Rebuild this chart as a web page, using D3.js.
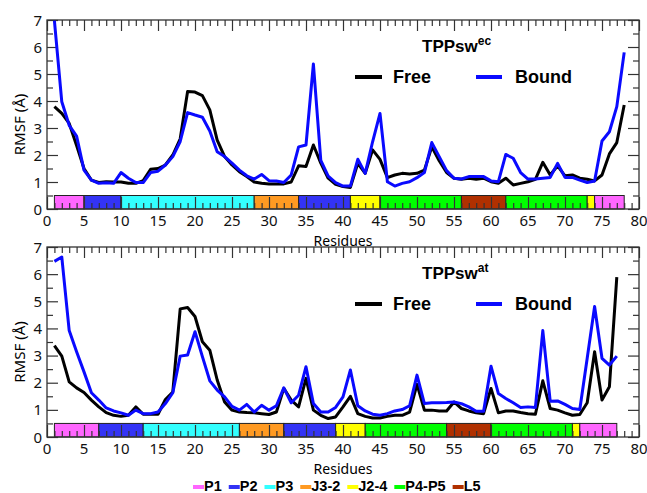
<!DOCTYPE html>
<html lang="en">
<head>
<meta charset="UTF-8">
<title>RMSF</title>
<script src="https://cdn.jsdelivr.net/npm/d3@7"></script>
<style>
  body { margin: 0; background: #fff; }
  text { font-family: "Noto Sans", "Open Sans", sans-serif; }
  .bold { font-family: "Liberation Sans", Arial, sans-serif; font-weight: bold; }
</style>
</head>
<body>
<script>
// residue numbers
const resEc = d3.range(1, 79);
const resAt = d3.range(1, 78);

// TPPsw ec (top)
const ecFree = [3.79,3.54,3.17,2.35,1.5,1.07,0.98,1.01,1.0,1.0,0.95,0.95,1.05,1.47,1.5,1.63,2.0,2.6,4.35,4.33,
  4.2,3.67,2.55,1.94,1.63,1.38,1.2,1.0,0.95,0.93,0.93,0.93,1.0,1.6,1.57,2.37,1.7,1.14,0.91,0.83,
  0.8,1.69,1.32,2.19,1.84,1.16,1.26,1.32,1.3,1.32,1.44,2.3,1.79,1.35,1.14,1.1,1.14,1.1,1.14,1.01,
  0.95,1.14,0.89,0.95,1.01,1.1,1.73,1.26,1.6,1.23,1.26,1.14,1.1,1.04,1.26,2.04,2.46,3.85];
const ecBound = [6.98,3.97,3.1,2.7,1.44,1.07,0.95,0.97,0.95,1.35,1.14,0.98,0.98,1.35,1.4,1.63,1.94,2.5,3.57,3.48,
  3.4,2.89,2.12,1.94,1.7,1.44,1.23,1.11,1.28,1.05,1.04,0.98,1.26,2.3,2.37,5.37,1.8,1.22,0.98,0.85,
  0.85,1.84,1.32,2.49,3.54,1.01,0.85,0.95,1.01,1.16,1.35,2.46,1.94,1.42,1.14,1.11,1.2,1.2,1.2,1.04,
  1.01,2.02,1.88,1.35,1.11,1.11,1.14,1.17,1.69,1.17,1.17,1.07,0.98,1.04,2.52,2.86,3.79,5.8];

// TPPsw at (bottom)
const atFree = [3.37,2.98,2.03,1.81,1.64,1.36,1.11,0.9,0.8,0.76,0.8,1.11,0.84,0.84,0.84,1.38,1.66,4.72,4.77,4.44,
  3.51,3.2,2.1,1.29,0.99,0.92,0.9,0.89,0.86,0.83,0.92,1.79,1.36,1.11,2.16,0.99,0.8,0.68,0.74,1.11,
  1.5,0.86,0.76,0.7,0.7,0.76,0.8,0.8,0.92,1.94,0.99,0.99,0.96,0.96,1.29,1.05,0.96,0.89,0.86,1.79,
  0.89,0.96,0.96,0.9,0.86,0.84,2.07,1.05,0.99,0.89,0.8,0.83,1.26,3.14,1.36,1.85,5.89];
const atBound = [6.47,6.63,3.92,3.14,2.4,1.63,1.36,1.07,0.96,0.89,0.8,0.99,0.86,0.86,0.92,1.23,1.63,2.98,3.02,3.88,
  2.96,2.07,1.73,1.48,1.13,0.99,1.2,0.92,1.17,0.99,1.15,1.81,1.26,1.54,2.59,1.23,0.92,0.92,1.09,1.48,
  2.47,1.15,0.96,0.84,0.8,0.86,0.96,1.01,1.15,2.28,1.23,1.26,1.26,1.27,1.29,1.23,1.11,0.95,0.95,2.61,
  1.6,1.42,1.26,1.09,1.11,1.09,3.92,1.32,1.33,1.2,1.05,1.01,2.9,4.81,2.9,2.65,2.98];

// secondary structure segments: start, end, name
const ecSegments = [[1,5,'P1'],[5,10,'P2'],[10,28,'P3'],[28,34,'J3-2'],[34,41,'P2'],[41,45,'J2-4'],
  [45,56,'P4-P5'],[56,62,'L5'],[62,73,'P4-P5'],[73,74,'J2-4'],[74,78,'P1']];
const atSegments = [[1,7,'P1'],[7,13,'P2'],[13,26,'P3'],[26,32,'J3-2'],[32,39,'P2'],[39,43,'J2-4'],
  [43,54,'P4-P5'],[54,60,'L5'],[60,71,'P4-P5'],[71,72,'J2-4'],[72,77,'P1']];

const segNames = ['P1','P2','P3','J3-2','J2-4','P4-P5','L5'];
const xTicks = [0,5,10,15,20,25,30,35,40,45,50,55,60,65,70,75,80];
const yTicks = [0,1,2,3,4,5,6,7];

const segColor = d3.scaleOrdinal()
  .domain(segNames)
  .range(['#ff66ff','#3333f5','#33ffff','#ff9a22','#ffff00','#00ff00','#b03000']);

const W = 647, H = 493;
const svg = d3.select('body').append('svg').attr('width', W).attr('height', H);

const x = d3.scaleLinear().domain([0, 80]).range([47, 639]);

function drawPanel(top, bottom, res, free, bound, segs, sup) {
    const y = d3.scaleLinear().domain([0, 7]).range([bottom, top]);
    const g = svg.append('g');

    // structure bar
    g.selectAll('.seg')
        .data(segs)
        .enter()
        .append('rect')
        .attr('x', d => x(d[0]))
        .attr('width', d => x(d[1]) - x(d[0]))
        .attr('y', y(0.5))
        .attr('height', y(0) - y(0.5))
        .attr('fill', d => segColor(d[2]))
        .attr('stroke', '#222')
        .attr('stroke-width', 1);

    // inward ticks
    const minorX = d3.range(0, 81, 1).filter(v => v % 5 !== 0);
    const minorY = d3.range(0.5, 7, 1);
    const tk = [
        [d3.axisTop(x).tickValues(minorX).tickSize(6), bottom],
        [d3.axisTop(x).tickValues(xTicks).tickSize(12), bottom],
        [d3.axisBottom(x).tickValues(minorX).tickSize(6), top],
        [d3.axisBottom(x).tickValues(xTicks).tickSize(11), top]
    ];
    tk.forEach(([ax, yy]) => {
        g.append('g').attr('transform', `translate(0,${yy})`)
            .call(ax.tickFormat(''))
            .call(s => s.select('.domain').remove())
            .selectAll('line').attr('stroke', '#333').attr('stroke-width', 1.2);
    });
    const tky = [
        [d3.axisRight(y).tickValues(minorY).tickSize(6), 47],
        [d3.axisRight(y).tickValues(yTicks).tickSize(11), 47],
        [d3.axisLeft(y).tickValues(minorY).tickSize(6), 639],
        [d3.axisLeft(y).tickValues(yTicks).tickSize(11), 639]
    ];
    tky.forEach(([ax, xx]) => {
        g.append('g').attr('transform', `translate(${xx},0)`)
            .call(ax.tickFormat(''))
            .call(s => s.select('.domain').remove())
            .selectAll('line').attr('stroke', '#333').attr('stroke-width', 1.2);
    });

    // frame
    g.append('rect')
        .attr('x', 47).attr('y', top)
        .attr('width', 639 - 47).attr('height', bottom - top)
        .attr('fill', 'none').attr('stroke', '#333').attr('stroke-width', 1.3);

    // tick labels
    g.selectAll('.xl').data(xTicks).enter().append('text')
        .attr('x', d => x(d)).attr('y', bottom + 17)
        .attr('text-anchor', 'middle').attr('font-size', 15).attr('fill', '#111')
        .text(d => d);
    g.selectAll('.yl').data(yTicks).enter().append('text')
        .attr('x', 42).attr('y', d => y(d) + 5.5)
        .attr('text-anchor', 'end').attr('font-size', 15).attr('fill', '#111')
        .text(d => d);

    g.append('text')
        .attr('x', 343).attr('y', bottom + 36.5)
        .attr('text-anchor', 'middle').attr('font-size', 14)
        .text('Residues');
    g.append('text')
        .attr('transform', `translate(25,${(top + bottom) / 2 + 10}) rotate(-90)`)
        .attr('text-anchor', 'middle').attr('font-size', 15)
        .text('RMSF (Å)');

    // lines
    const line = d3.line().x(d => x(d[0])).y(d => y(d[1]));
    g.append('path')
        .datum(res.map((r, i) => [r, free[i]]))
        .attr('d', line).attr('fill', 'none')
        .attr('stroke', '#000').attr('stroke-width', 3).attr('stroke-linejoin', 'round');
    g.append('path')
        .datum(res.map((r, i) => [r, bound[i]]))
        .attr('d', line).attr('fill', 'none')
        .attr('stroke', '#0a0aff').attr('stroke-width', 3).attr('stroke-linejoin', 'round');

    // title + legend
    const t = g.append('text').attr('class', 'bold')
        .attr('x', 422).attr('y', top + 32).attr('font-size', 17);
    t.append('tspan').text('TPPsw');
    t.append('tspan').attr('dy', -7).attr('font-size', 12).text(sup);

    const ly = top + 57;
    g.append('line').attr('x1', 355).attr('x2', 382).attr('y1', ly).attr('y2', ly)
        .attr('stroke', '#000').attr('stroke-width', 4);
    g.append('text').attr('class', 'bold').attr('x', 393).attr('y', ly + 6)
        .attr('font-size', 18).text('Free');
    g.append('line').attr('x1', 476).attr('x2', 502).attr('y1', ly).attr('y2', ly)
        .attr('stroke', '#0a0aff').attr('stroke-width', 4);
    g.append('text').attr('class', 'bold').attr('x', 515).attr('y', ly + 6)
        .attr('font-size', 18).text('Bound');
}

drawPanel(20, 209, resEc, ecFree, ecBound, ecSegments, 'ec');
drawPanel(247, 437, resAt, atFree, atBound, atSegments, 'at');

// bottom legend
let lx = 193;
const leg = svg.append('g');
segNames.forEach(n => {
    leg.append('rect').attr('x', lx).attr('y', 485).attr('width', 11).attr('height', 4)
        .attr('fill', segColor(n));
    const tx = leg.append('text').attr('class', 'bold').attr('x', lx + 11).attr('y', 491)
        .attr('font-size', 14.5).text(n);
    lx += 11 + tx.node().getComputedTextLength() + 7;
});
</script>
</body>
</html>
